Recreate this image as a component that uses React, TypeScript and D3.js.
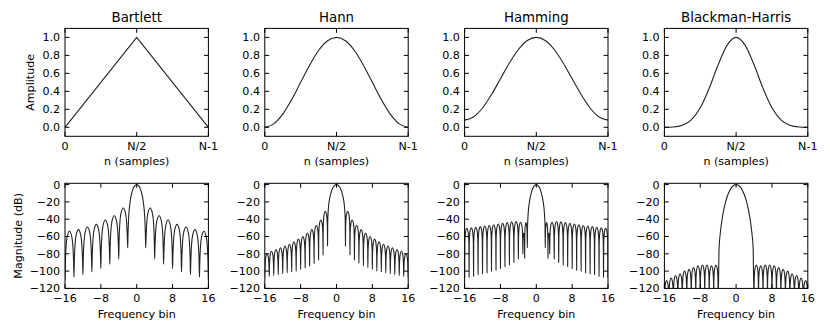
import React, { useEffect, useRef } from "react";
import * as d3 from "d3";

const TITLES = ["Bartlett", "Hann", "Hamming", "Blackman-Harris"];

const WIN_TICKS = [0, 0.5, 1];
const WIN_TICK_LABELS = ["0", "N/2", "N-1"];
const AMP_TICKS = [0, 0.2, 0.4, 0.6, 0.8, 1.0];
const BIN_TICKS = [-16, -8, 0, 8, 16];
const DB_TICKS = [0, -20, -40, -60, -80, -100, -120];

// window samples, position given as a fraction of N-1
const WIN_POS = [0, 0.0625, 0.125, 0.1875, 0.25, 0.3125, 0.375, 0.4375, 0.5, 0.5625, 0.625, 0.6875, 0.75, 0.8125, 0.875, 0.9375, 1];
const BARTLETT_POS = [0, 0.5, 1];
const BARTLETT_WIN = [0, 1, 0];
const HANN_WIN = [0, 0.038, 0.146, 0.309, 0.5, 0.691, 0.854, 0.962, 1, 0.962, 0.854, 0.691, 0.5, 0.309, 0.146, 0.038, 0];
const HAMMING_WIN = [0.08, 0.115, 0.215, 0.364, 0.54, 0.716, 0.865, 0.965, 1, 0.965, 0.865, 0.716, 0.54, 0.364, 0.215, 0.115, 0.08];
const BH_WIN = [0.0001, 0.003, 0.022, 0.083, 0.217, 0.435, 0.696, 0.914, 1, 0.914, 0.696, 0.435, 0.217, 0.083, 0.022, 0.003, 0.0001];

// spectra: right half only (plot is symmetric about bin 0)
// main lobe [bin, dB], then nulls and the sidelobe peak between each pair of nulls
const BARTLETT_MAIN = [[0, 0], [0.5, -1.8], [1, -7.8], [1.5, -21], [1.8, -38.5], [1.95, -60]];
const BARTLETT_NULL_BINS = [2, 4, 6, 8, 10, 12, 14, 16];
const BARTLETT_NULL_DB = [-73, -86, -92, -97, -101, -104, -107, -110];
const BARTLETT_LOBE_DB = [-27, -36, -41, -46, -49, -52, -54];

const HANN_MAIN = [[0, 0], [0.5, -1.4], [1, -6], [1.5, -15.4], [1.8, -26.7], [1.95, -40.8]];
const HANN_NULL_BINS = [2, 3, 4, 5, 6, 7, 8, 9, 10, 11, 12, 13, 14, 15, 16];
const HANN_NULL_DB = [-71, -81, -87, -91, -94, -96, -98, -100, -101, -102, -103, -104, -105, -106, -107];
const HANN_LOBE_DB = [-31, -41, -47, -52, -56, -60, -63, -66, -69, -71, -73, -75, -77, -80];

const HAMMING_MAIN = [[0, 0], [0.5, -1.75], [1, -7.4], [1.5, -18.9], [1.8, -32.3], [1.95, -48]];
const HAMMING_NULL_BINS = [2, 2.6, 3, 4, 5, 6, 7, 8, 9, 10, 11, 12, 13, 14, 15, 16];
const HAMMING_NULL_DB = [-73, -85, -80, -86, -90, -93, -95, -97, -99, -100, -102, -103, -104, -106, -107, -108];
const HAMMING_LOBE_DB = [-44, -56, -43.5, -42.7, -43.1, -44, -44.8, -45.6, -46.4, -47.2, -47.9, -48.6, -49.3, -50, -50.6];

const BH_MAIN = [[0, 0], [0.5, -0.8], [1, -3.3], [1.5, -7.7], [2, -14.1], [2.5, -23.1], [3, -35.8], [3.5, -54.8], [3.8, -73.4]];
const BH_NULL_BINS = [4, 5, 6, 7, 8, 9, 10, 11, 12, 13, 14, 15, 16];
const BH_NULL_DB = [-135, -135, -135, -135, -135, -135, -135, -135, -135, -135, -135, -135, -135];
const BH_LOBE_DB = [-93, -94, -93, -93, -94, -96, -98, -100, -103, -105, -108, -111];

// shape of one sidelobe between two nulls: [fraction of lobe width, dB below lobe peak]
const LOBE_SHAPE = [[0.04, -18], [0.12, -8.7], [0.25, -3], [0.5, 0], [0.75, -3], [0.88, -8.7], [0.96, -18]];
const LOBE_SHAPE_SQ = [[0.04, -36], [0.12, -17.4], [0.25, -6], [0.5, 0], [0.75, -6], [0.88, -17.4], [0.96, -36]];

const PANEL_X0 = 65;
const PANEL_STEP = 199.8;
const PANEL_W = 143.4;
const ROWS = [{ top: 28.4, bottom: 136.3 }, { top: 183.3, bottom: 288.4 }];
const FONT = "DejaVu Sans, Verdana, sans-serif";
const TICK = 4.4;

function halfSpectrum(main, nullBins, nullDb, lobeDb, shape) {
  const pts = main.slice();
  nullBins.forEach((b, i) => {
    pts.push([b, nullDb[i]]);
    if (i < lobeDb.length) {
      const next = nullBins[i + 1];
      shape.forEach(([t, off]) => pts.push([b + t * (next - b), lobeDb[i] + off]));
    }
  });
  return pts;
}

function mirrored(half) {
  const left = half.slice(1).map(([b, v]) => [-b, v]).reverse();
  return left.concat(half);
}

const App = () => {
  const ref = useRef(null);

  useEffect(() => {
    const svg = d3.select(ref.current);
    svg.selectAll("*").remove();
    const defs = svg.append("defs");

    const windows = [
      { pos: BARTLETT_POS, w: BARTLETT_WIN, curve: d3.curveLinear },
      { pos: WIN_POS, w: HANN_WIN, curve: d3.curveMonotoneX },
      { pos: WIN_POS, w: HAMMING_WIN, curve: d3.curveMonotoneX },
      { pos: WIN_POS, w: BH_WIN, curve: d3.curveMonotoneX },
    ];
    const spectra = [
      mirrored(halfSpectrum(BARTLETT_MAIN, BARTLETT_NULL_BINS, BARTLETT_NULL_DB, BARTLETT_LOBE_DB, LOBE_SHAPE_SQ)),
      mirrored(halfSpectrum(HANN_MAIN, HANN_NULL_BINS, HANN_NULL_DB, HANN_LOBE_DB, LOBE_SHAPE)),
      mirrored(halfSpectrum(HAMMING_MAIN, HAMMING_NULL_BINS, HAMMING_NULL_DB, HAMMING_LOBE_DB, LOBE_SHAPE)),
      mirrored(halfSpectrum(BH_MAIN, BH_NULL_BINS, BH_NULL_DB, BH_LOBE_DB, LOBE_SHAPE)),
    ];

    // frame, inward ticks on all four sides, tick labels
    const drawAxes = (g, x, y, xTicks, xLabels, yTicks, yFmt, row) => {
      const [l, r] = x.range();
      g.append("rect")
        .attr("x", l).attr("y", row.top)
        .attr("width", r - l).attr("height", row.bottom - row.top)
        .attr("fill", "none").attr("stroke", "#000").attr("stroke-width", 1);
      xTicks.forEach((t, k) => {
        const px = x(t);
        g.append("line").attr("x1", px).attr("x2", px).attr("y1", row.bottom).attr("y2", row.bottom - TICK).attr("stroke", "#000");
        g.append("line").attr("x1", px).attr("x2", px).attr("y1", row.top).attr("y2", row.top + TICK).attr("stroke", "#000");
        g.append("text").attr("x", px).attr("y", row.bottom + 13.5)
          .attr("text-anchor", "middle").attr("font-size", 11.1).attr("font-family", FONT)
          .text(xLabels[k]);
      });
      yTicks.forEach(t => {
        const py = y(t);
        g.append("line").attr("x1", l).attr("x2", l + TICK).attr("y1", py).attr("y2", py).attr("stroke", "#000");
        g.append("line").attr("x1", r).attr("x2", r - TICK).attr("y1", py).attr("y2", py).attr("stroke", "#000");
        g.append("text").attr("x", l - 4.8).attr("y", py).attr("dy", "0.36em")
          .attr("text-anchor", "end").attr("font-size", 11.1).attr("font-family", FONT)
          .text(yFmt(t));
      });
    };

    TITLES.forEach((title, i) => {
      const left = PANEL_X0 + i * PANEL_STEP;
      const right = left + PANEL_W;

      // top row: window in time
      const top = ROWS[0];
      const gT = svg.append("g");
      const xT = d3.scaleLinear().domain([0, 1]).range([left, right]);
      const yT = d3.scaleLinear().domain([-0.1, 1.1]).range([top.bottom, top.top]);
      const win = windows[i];
      const lineT = d3.line().x(d => xT(d[0])).y(d => yT(d[1])).curve(win.curve);
      gT.append("path")
        .datum(win.pos.map((p, k) => [p, win.w[k]]))
        .attr("d", lineT)
        .attr("fill", "none").attr("stroke", "#222").attr("stroke-width", 1.1);
      drawAxes(gT, xT, yT, WIN_TICKS, WIN_TICK_LABELS, AMP_TICKS, d3.format(".1f"), top);
      gT.append("text").attr("x", (left + right) / 2).attr("y", top.top - 6.5)
        .attr("text-anchor", "middle").attr("font-size", 13.33).attr("font-family", FONT)
        .text(title);
      gT.append("text").attr("x", (left + right) / 2).attr("y", top.bottom + 29)
        .attr("text-anchor", "middle").attr("font-size", 11.1).attr("font-family", FONT)
        .text("n (samples)");

      // bottom row: magnitude spectrum
      const bot = ROWS[1];
      const gB = svg.append("g");
      const xB = d3.scaleLinear().domain([-16, 16]).range([left, right]);
      const yB = d3.scaleLinear().domain([-120, 1.5]).range([bot.bottom, bot.top]);
      const clipId = `clip-spec-${i}`;
      defs.append("clipPath").attr("id", clipId)
        .append("rect")
        .attr("x", left).attr("y", bot.top)
        .attr("width", right - left).attr("height", bot.bottom - bot.top);
      const lineB = d3.line().x(d => xB(d[0])).y(d => yB(d[1])).curve(d3.curveMonotoneX);
      gB.append("path")
        .datum(spectra[i])
        .attr("clip-path", `url(#${clipId})`)
        .attr("d", lineB)
        .attr("fill", "none").attr("stroke", "#222").attr("stroke-width", 1.1);
      drawAxes(gB, xB, yB, BIN_TICKS, BIN_TICKS.map(d3.format("d")), DB_TICKS, d3.format("d"), bot);
      gB.append("text").attr("x", (left + right) / 2).attr("y", bot.bottom + 30)
        .attr("text-anchor", "middle").attr("font-size", 11.1).attr("font-family", FONT)
        .text("Frequency bin");
    });

    svg.append("text")
      .attr("transform", `translate(33.5,${(ROWS[0].top + ROWS[0].bottom) / 2}) rotate(-90)`)
      .attr("text-anchor", "middle").attr("font-size", 11.1).attr("font-family", FONT)
      .text("Amplitude");
    svg.append("text")
      .attr("transform", `translate(21.7,${(ROWS[1].top + ROWS[1].bottom) / 2}) rotate(-90)`)
      .attr("text-anchor", "middle").attr("font-size", 11.1).attr("font-family", FONT)
      .text("Magnitude (dB)");
  }, []);

  return (
    <svg
      ref={ref}
      width={830}
      height={332}
      style={{ position: "absolute", left: 0, top: 0, background: "#fff" }}
    />
  );
};

export default App;
